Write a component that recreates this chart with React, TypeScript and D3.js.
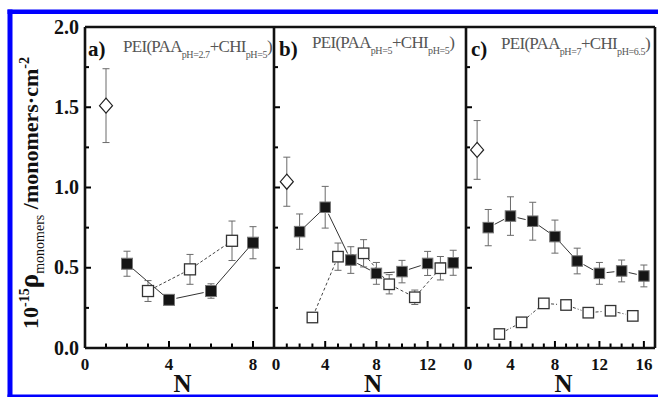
import React from "react";
import * as d3 from "d3";

const W = 658;
const H = 397;
const Y_TOP = 27;
const Y_BOT = 348;

// ---- data ----
const panelNames = ["a)", "b)", "c)"];
const panelDomains = [9, 15, 17];
const panelXTicks = [[0, 4, 8], [0, 4, 8, 12], [0, 4, 8, 12, 16]];
const titlePAA = ["pH=2.7", "pH=5", "pH=7"];
const titleCHI = ["pH=5", "pH=5", "pH=6.5"];
const yTickLabels = [0, 0.5, 1.0, 1.5, 2.0];

const diamondN = [1, 1, 1];
const diamondV = [1.51, 1.036, 1.234];
const diamondE = [0.23, 0.153, 0.183];

const filledA_N = [2, 4, 6, 8];
const filledA_V = [0.525, 0.3, 0.355, 0.656];
const filledA_E = [0.078, 0.03, 0.045, 0.1];
const openA_N = [3, 5, 7];
const openA_V = [0.355, 0.49, 0.668];
const openA_E = [0.065, 0.093, 0.123];

const filledB_N = [2, 4, 6, 8, 10, 12, 14];
const filledB_V = [0.725, 0.877, 0.548, 0.465, 0.476, 0.527, 0.531];
const filledB_E = [0.11, 0.13, 0.083, 0.068, 0.07, 0.075, 0.078];
const openB_N = [3, 5, 7, 9, 11, 13];
const openB_V = [0.19, 0.569, 0.59, 0.397, 0.316, 0.497];
const openB_E = [0.02, 0.085, 0.085, 0.06, 0.045, 0.073];

const filledC_N = [2, 4, 6, 8, 10, 12, 14, 16];
const filledC_V = [0.75, 0.822, 0.79, 0.694, 0.542, 0.465, 0.48, 0.449];
const filledC_E = [0.113, 0.12, 0.118, 0.103, 0.08, 0.068, 0.068, 0.068];
const openC_N = [3, 5, 7, 9, 11, 13, 15];
const openC_V = [0.087, 0.16, 0.278, 0.268, 0.22, 0.232, 0.2];
const openC_E = [0.03, 0.03, 0.02, 0.02, 0.02, 0.02, 0.025];

const filledN = [filledA_N, filledB_N, filledC_N];
const filledV = [filledA_V, filledB_V, filledC_V];
const filledE = [filledA_E, filledB_E, filledC_E];
const openN = [openA_N, openB_N, openC_N];
const openV = [openA_V, openB_V, openC_V];
const openE = [openA_E, openB_E, openC_E];

const filledDash = ["none", "none", "none"];
const openDash = ["3,2", "3,2.5", "3,2,1,2"];

// ---- layout ----
const panelX = [
  [85, 274],
  [274, 466],
  [466, 655],
];
const titleX = [123, 312, 501];
const titleY = [52, 48, 49];
const labelX = [88, 279, 471];

const SERIF = "'Liberation Serif', 'Times New Roman', serif";

const y = d3.scaleLinear().domain([0, 2]).range([Y_BOT, Y_TOP]);

function segs(xs: number[], ys: number[], trim: number) {
  const out: { x1: number; y1: number; x2: number; y2: number }[] = [];
  for (let i = 0; i < xs.length - 1; i++) {
    const dx = xs[i + 1] - xs[i];
    const dy = ys[i + 1] - ys[i];
    const L = Math.hypot(dx, dy);
    if (L <= 2 * trim) continue;
    const ux = dx / L;
    const uy = dy / L;
    out.push({
      x1: xs[i] + ux * trim,
      y1: ys[i] + uy * trim,
      x2: xs[i + 1] - ux * trim,
      y2: ys[i + 1] - uy * trim,
    });
  }
  return out;
}

function ErrBar({ cx, v, e }: { cx: number; v: number; e: number }) {
  const t = y(v + e);
  const b = y(v - e);
  return (
    <g stroke="#6a6a6a" strokeWidth={1}>
      <line x1={cx} x2={cx} y1={t} y2={b} />
      <line x1={cx - 3.5} x2={cx + 3.5} y1={t} y2={t} />
      <line x1={cx - 3.5} x2={cx + 3.5} y1={b} y2={b} />
    </g>
  );
}

function Panel({ i }: { i: number }) {
  const [x0, x1] = panelX[i];
  const x = d3.scaleLinear().domain([0, panelDomains[i]]).range([x0, x1]);
  const ms = i === 0 ? 11 : 10.5;
  const h = ms / 2;
  const fx = filledN[i].map((n) => x(n));
  const fy = filledV[i].map((v) => y(v));
  const ox = openN[i].map((n) => x(n));
  const oy = openV[i].map((v) => y(v));
  const dx = x(diamondN[i]);
  const dy = y(diamondV[i]);
  const xt = d3.range(1, panelDomains[i]);
  const yt = d3.range(1, 8).map((k) => k * 0.25);
  return (
    <g>
      {xt.map((t) => (
        <line
          key={"xt" + t}
          x1={x(t)}
          x2={x(t)}
          y1={Y_BOT}
          y2={Y_BOT - (t % 4 === 0 ? 7 : 4.5)}
          stroke="#000"
          strokeWidth={2}
        />
      ))}
      {yt.map((t) => (
        <line
          key={"yt" + t}
          x1={x0}
          x2={x0 + (Math.abs(t * 2 - Math.round(t * 2)) < 1e-6 ? 6 : 4)}
          y1={y(t)}
          y2={y(t)}
          stroke="#000"
          strokeWidth={2}
        />
      ))}
      {panelXTicks[i].map((t) => (
        <text
          key={"xl" + t}
          x={x(t) + (t === 0 && i > 0 ? 2 : 0)}
          y={370}
          textAnchor="middle"
          fontFamily={SERIF}
          fontWeight="bold"
          fontSize={17}
          fill="#111"
        >
          {t}
        </text>
      ))}
      <text
        x={(x0 + x1) / 2 + 3}
        y={392}
        textAnchor="middle"
        fontFamily={SERIF}
        fontWeight="bold"
        fontSize={25}
        fill="#111"
      >
        N
      </text>
      {segs(fx, fy, h + 2).map((s, k) => (
        <line key={"fs" + k} {...s} stroke="#333" strokeWidth={1} strokeDasharray={filledDash[i]} />
      ))}
      {segs(ox, oy, h + 2).map((s, k) => (
        <line key={"os" + k} {...s} stroke="#444" strokeWidth={1} strokeDasharray={openDash[i]} />
      ))}
      <ErrBar cx={dx} v={diamondV[i]} e={diamondE[i]} />
      {filledV[i].map((v, k) => (
        <ErrBar key={"fe" + k} cx={fx[k]} v={v} e={filledE[i][k]} />
      ))}
      {openV[i].map((v, k) => (
        <ErrBar key={"oe" + k} cx={ox[k]} v={v} e={openE[i][k]} />
      ))}
      <path
        d={`M${dx},${dy - 7.5}L${dx + 6.5},${dy}L${dx},${dy + 7.5}L${dx - 6.5},${dy}Z`}
        fill="#fff"
        stroke="#222"
        strokeWidth={1.2}
      />
      {fx.map((cx, k) => (
        <rect
          key={"fm" + k}
          x={cx - h}
          y={fy[k] - h}
          width={ms}
          height={ms}
          fill="#151515"
          stroke="#777"
          strokeWidth={1}
        />
      ))}
      {ox.map((cx, k) => (
        <rect
          key={"om" + k}
          x={cx - h}
          y={oy[k] - h}
          width={ms}
          height={ms}
          fill="#fff"
          stroke="#333"
          strokeWidth={1.3}
        />
      ))}
      <text x={labelX[i]} y={56} fontFamily={SERIF} fontWeight="bold" fontSize={21} fill="#111">
        {panelNames[i]}
      </text>
      <text x={titleX[i]} y={titleY[i]} fontFamily={SERIF} fontSize={17} fill="#555" letterSpacing={-0.7}>
        <tspan>PEI(PAA</tspan>
        <tspan fontSize={10} dy={6} letterSpacing={-0.4}>{titlePAA[i]}</tspan>
        <tspan dy={-6}>+CHI</tspan>
        <tspan fontSize={10} dy={6} letterSpacing={-0.4}>{titleCHI[i]}</tspan>
        <tspan dy={-6}>)</tspan>
      </text>
    </g>
  );
}

export default function App() {
  return (
    <svg
      width={W}
      height={H}
      style={{ position: "absolute", left: 0, top: 0, display: "block", background: "#fff" }}
    >
      <rect x={0} y={0} width={W} height={H} fill="#fff" />
      <rect x={7.5} y={9.5} width={W - 7.5} height={4.5} fill="#0000ff" />
      <rect x={7.5} y={9.5} width={5} height={H - 9.5} fill="#0000ff" />
      <rect x={7.5} y={394.5} width={W - 7.5} height={2.5} fill="#0000ff" />

      {[0, 1, 2].map((i) => (
        <Panel key={i} i={i} />
      ))}

      <g stroke="#111" strokeWidth={2.6} fill="none">
        <line x1={panelX[0][0]} x2={panelX[2][1]} y1={Y_TOP} y2={Y_TOP} />
        <line x1={panelX[0][0]} x2={panelX[2][1]} y1={Y_BOT} y2={Y_BOT} />
        {panelX.map(([x0], k) => (
          <line key={k} x1={x0} x2={x0} y1={Y_TOP} y2={Y_BOT} />
        ))}
        <line x1={panelX[2][1]} x2={panelX[2][1]} y1={Y_TOP} y2={Y_BOT} />
      </g>

      {yTickLabels.map((t) => (
        <text
          key={t}
          x={79}
          y={y(t) + 6.5}
          textAnchor="end"
          fontFamily={SERIF}
          fontWeight="bold"
          fontSize={20}
          fill="#111"
        >
          {t.toFixed(1)}
        </text>
      ))}

      <text
        transform={`translate(38,${193}) rotate(-90)`}
        textAnchor="middle"
        fontFamily={SERIF}
        fontWeight="bold"
        fontSize={22}
        fill="#111"
      >
        <tspan>10</tspan>
        <tspan fontSize={14} dy={-9}>-15</tspan>
        <tspan fontSize={27} dy={9}>ρ</tspan>
        <tspan fontSize={14} fontWeight="normal" dy={6}>monomers</tspan>
        <tspan dy={-6}> /monomers·cm</tspan>
        <tspan fontSize={14} dy={-9}>-2</tspan>
      </text>
    </svg>
  );
}
